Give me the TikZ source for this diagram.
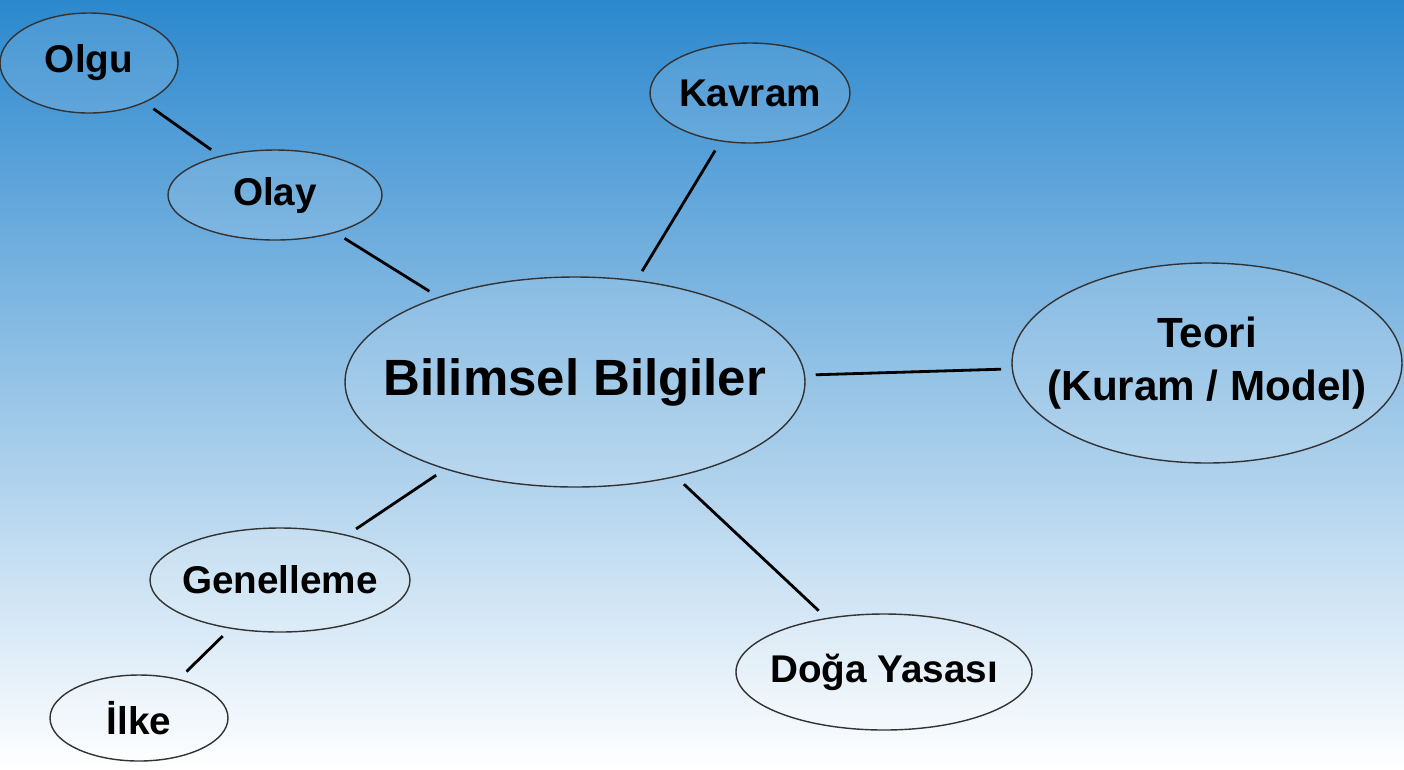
\documentclass[tikz,border=0pt]{standalone}
\usepackage{fontspec}
\setmainfont{Liberation Sans}
\usetikzlibrary{shapes.geometric}
\definecolor{topblue}{RGB}{44,136,206}
\tikzset{
  bubble/.style={ellipse, draw=black!80, fill=white, fill opacity=0.12, text opacity=1,
    inner sep=-30mm, font=\bfseries\fontsize{11}{13}\selectfont, align=center},
  link/.style={black, thick, shorten >=3pt, shorten <=3pt}
}
\begin{document}
\begin{tikzpicture}[x=0.1mm,y=-0.1mm]
\shade[top color=topblue, bottom color=white] (0,0) rectangle (1404,769);
\useasboundingbox (0,0) rectangle (1404,769);

\node[bubble, minimum width=17.8mm, minimum height=10mm] (olgu) at (89,63) {Olgu};
\node[bubble, minimum width=21.4mm, minimum height=9mm] (olay) at (275,195) {Olay};
\node[bubble, minimum width=20mm, minimum height=10mm] (kavram) at (750,93) {Kavram};
\node[bubble, minimum width=46mm, minimum height=21mm, font=\bfseries\fontsize{14.5}{17}\selectfont] (bilgi) at (575,382) {Bilimsel Bilgiler};
\node[bubble, minimum width=39mm, minimum height=20mm, font=\bfseries\fontsize{12}{15}\selectfont] (teori) at (1207,363) {Teori\\(Kuram / Model)};
\node[bubble, minimum width=26mm, minimum height=10.4mm] (genel) at (280,580) {Genelleme};
\node[bubble, minimum width=17.8mm, minimum height=8.6mm] (ilke) at (139,718) {İlke};
\node[bubble, minimum width=29.6mm, minimum height=11.6mm] (doga) at (884,672) {Doğa Yasası};

\draw[link] (olgu) -- (olay);
\draw[link] (olay) -- (bilgi);
\draw[link] (kavram) -- (bilgi);
\draw[link] (bilgi) -- (teori);
\draw[link] (bilgi) -- (genel);
\draw[link] (genel) -- (ilke);
\draw[link] (bilgi) -- (doga);
\end{tikzpicture}
\end{document}
